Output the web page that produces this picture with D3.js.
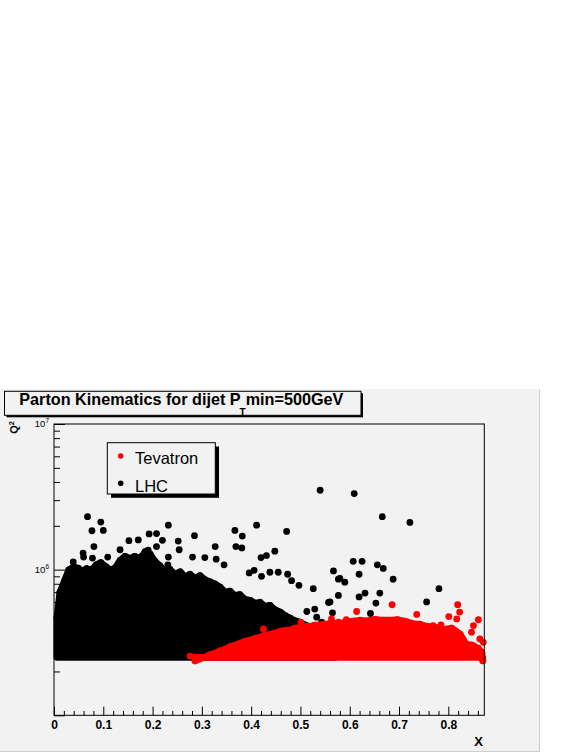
<!DOCTYPE html>
<html><head><meta charset="utf-8">
<script src="https://cdn.jsdelivr.net/npm/d3@7"></script>
<style>html,body{margin:0;padding:0;background:#fff;} svg{display:block;}</style>
</head><body>
<svg id="c" width="581" height="752"></svg>
<script>
// ---------- data ----------
const titleMain = "Parton Kinematics for dijet P";
const titleSub = "T";
const titleTail = "min=500GeV";
const seriesNames = ["Tevatron", "LHC"];
const seriesColors = ["#ff0000", "#000000"];
const q2Floor = 2.5e5;

// visible upper edge of the dense (solid) LHC cloud: [x, Q2]
const lhcEnvelope = [[0.006,4.97e5],[0.012,7.39e5],[0.022,8.95e5],[0.030,1.05e6],[0.040,1.10e6],[0.049,1.08e6],
  [0.058,1.02e6],[0.066,1.07e6],[0.076,1.05e6],[0.086,1.14e6],[0.095,1.18e6],[0.106,1.10e6],[0.115,1.05e6],
  [0.124,1.08e6],[0.134,1.22e6],[0.144,1.30e6],[0.154,1.26e6],[0.164,1.30e6],[0.174,1.24e6],[0.185,1.40e6],
  [0.195,1.35e6],[0.205,1.20e6],[0.215,1.12e6],[0.225,1.02e6],[0.235,1.06e6],[0.245,0.98e6],[0.256,1.02e6],
  [0.266,9.4e5],[0.276,9.8e5],[0.286,9.2e5],[0.296,9.6e5],[0.306,9.0e5],[0.317,8.7e5],[0.327,8.4e5],
  [0.337,8.0e5],[0.347,7.4e5],[0.357,7.5e5],[0.367,7.0e5],[0.377,7.1e5],[0.387,6.6e5],[0.398,6.5e5],
  [0.408,6.2e5],[0.418,6.3e5],[0.428,5.9e5],[0.438,6.0e5],[0.448,5.6e5],[0.459,5.4e5],[0.469,5.1e5],
  [0.479,4.9e5],[0.489,4.7e5],[0.499,4.6e5],[0.509,4.4e5],[0.529,4.18e5],[0.550,4.04e5],[0.570,3.80e5]];
// isolated LHC events: [x, Q2]
const lhcPoints = [[0.540,3.51e6],[0.609,3.33e6],[0.666,2.31e6],[0.722,2.11e6],[0.607,1.14e6],[0.625,1.14e6],
  [0.567,9.8e5],[0.656,1.08e6],[0.668,1.02e6],[0.619,9.3e5],[0.580,8.7e5],[0.590,8.2e5],[0.688,8.6e5],
  [0.781,7.4e5],[0.577,6.65e5],[0.619,6.5e5],[0.631,6.9e5],[0.661,6.9e5],[0.653,5.9e5],[0.756,6.0e5],
  [0.565,5.05e5],[0.642,5.0e5],[0.560,6.0e5],
  [0.411,2.02e6],[0.472,1.83e6],[0.285,1.71e6],[0.367,1.86e6],[0.382,1.70e6],[0.327,1.44e6],[0.369,1.44e6],
  [0.381,1.41e6],[0.448,1.34e6],[0.420,1.21e6],[0.431,1.25e6],[0.281,1.22e6],[0.306,1.21e6],[0.329,1.18e6],
  [0.345,1.08e6],[0.577,8.6e5],[0.455,9.6e5],[0.474,9.3e5],[0.396,9.5e5],[0.406,9.9e5],[0.438,9.6e5],
  [0.421,9.0e5],[0.482,8.4e5],[0.526,7.4e5],[0.497,7.8e5],[0.557,5.95e5],[0.513,5.16e5],[0.529,5.36e5],
  [0.533,4.72e5],[0.543,4.36e5],
  [0.068,2.31e6],[0.095,2.12e6],[0.077,1.85e6],[0.100,1.86e6],[0.232,2.02e6],[0.081,1.44e6],[0.152,1.58e6],
  [0.171,1.60e6],[0.193,1.76e6],[0.208,1.77e6],[0.220,1.59e6],[0.059,1.30e6],[0.060,1.22e6],[0.078,1.20e6],
  [0.252,1.57e6],[0.254,1.37e6],[0.232,1.22e6],[0.231,1.08e6],[0.134,1.37e6],[0.109,1.22e6],[0.039,1.13e6],
  [0.174,1.22e6],[0.191,1.36e6],[0.208,1.44e6]];

// visible upper edge of the dense Tevatron cloud: [x, Q2]
const tevEnvelope = [[0.286,2.5e5],[0.296,2.58e5],[0.306,2.64e5],[0.317,2.75e5],[0.327,2.81e5],[0.337,2.92e5],
  [0.347,2.99e5],[0.357,3.12e5],[0.367,3.19e5],[0.377,3.28e5],[0.387,3.40e5],[0.398,3.46e5],[0.408,3.56e5],
  [0.418,3.62e5],[0.428,3.74e5],[0.438,3.78e5],[0.448,3.86e5],[0.459,3.98e5],[0.469,4.04e5],[0.479,4.06e5],
  [0.489,4.18e5],[0.499,4.24e5],[0.509,4.31e5],[0.519,4.30e5],[0.529,4.38e5],[0.540,4.40e5],[0.550,4.45e5],
  [0.560,4.50e5],[0.570,4.52e5],[0.580,4.48e5],[0.590,4.59e5],[0.605,4.66e5],[0.621,4.74e5],[0.636,4.70e5],
  [0.651,4.80e5],[0.667,4.74e5],[0.682,4.74e5],[0.697,4.78e5],[0.712,4.66e5],[0.727,4.50e5],[0.742,4.45e5],
  [0.757,4.30e5],[0.773,4.24e5],[0.783,4.15e5],[0.793,4.11e5],[0.807,4.18e5],[0.815,4.0e5],[0.824,3.8e5],
  [0.830,3.5e5],[0.836,3.24e5],[0.848,3.2e5],[0.860,3.05e5],[0.868,2.85e5],[0.870,2.5e5]];
// isolated Tevatron events: [x, Q2]
const tevPoints = [[0.686,5.74e5],[0.614,5.16e5],[0.501,4.35e5],[0.819,5.74e5],[0.823,5.11e5],[0.801,4.76e5],
  [0.817,4.59e5],[0.736,4.93e5],[0.769,4.13e5],[0.785,4.18e5],[0.563,4.59e5],[0.593,4.53e5],[0.577,4.36e5],
  [0.861,4.53e5],[0.851,4.13e5],[0.847,3.72e5],[0.864,3.34e5],[0.871,3.17e5],[0.425,3.92e5],[0.276,2.55e5]];

const xTickValues = [0, 0.1, 0.2, 0.3, 0.4, 0.5, 0.6, 0.7, 0.8];
const xTickLabels = ["0", "0.1", "0.2", "0.3", "0.4", "0.5", "0.6", "0.7", "0.8"];
const yTickValues = [1e6, 1e7];
const yTickExponents = ["6", "7"];
const xTitle = "X";
const yTitle = "Q";
const yTitleSup = "2";

// ---------- drawing ----------
const svg = d3.select("#c");
const FONT = "'Liberation Sans', Arial, Helvetica, sans-serif";
const BG = "#f2f2f2";

const x = d3.scaleLinear().domain([0, 0.873]).range([54, 484.3]);
const y = d3.scaleLog().domain([1e5, 1e7]).range([715.3, 424]);

// canvas
svg.append("rect").attr("x", 0).attr("y", 389).attr("width", 540).attr("height", 363).attr("fill", BG);
svg.append("line").attr("x1", 539.5).attr("x2", 539.5).attr("y1", 389).attr("y2", 752).attr("stroke", "#cfcfcf");
svg.append("line").attr("x1", 0).attr("x2", 540).attr("y1", 751.5).attr("y2", 751.5).attr("stroke", "#cfcfcf");

// title box
svg.append("rect").attr("x", 6.5).attr("y", 393.3).attr("width", 356.5).attr("height", 24).attr("fill", "#000");
svg.append("rect").attr("x", 4.5).attr("y", 391.3).attr("width", 356.5).attr("height", 24)
  .attr("fill", BG).attr("stroke", "#000").attr("stroke-width", 1);
const t = svg.append("text").attr("x", 19.3).attr("y", 404.5)
  .attr("font-family", FONT).attr("font-weight", "bold").attr("font-size", 16.2).attr("fill", "#000");
t.append("tspan").text(titleMain);
t.append("tspan").style("font-size", "10px").attr("dy", 11.5).attr("dx", -1).text(titleSub);
t.append("tspan").style("font-size", "16.2px").attr("dy", -11.5).text(titleTail);

// data layers (envelope = visible top edge; marker centres sit one radius below it)
const R = 3.4;
const area = d3.area().x(d => x(d[0])).y0(y(q2Floor)).y1(d => y(d[1]) + R);
function drawSeries(env, pts, color) {
  const g = svg.append("g");
  g.append("path").datum(env).attr("d", area).attr("fill", color)
    .attr("stroke", color).attr("stroke-width", 2 * R).attr("stroke-linejoin", "round");
  g.selectAll("circle.e").data(env).join("circle").attr("class", "e")
    .attr("cx", d => x(d[0])).attr("cy", d => y(d[1]) + R).attr("r", R).attr("fill", color);
  g.selectAll("circle.p").data(pts).join("circle").attr("class", "p")
    .attr("cx", d => x(d[0])).attr("cy", d => y(d[1])).attr("r", R).attr("fill", color);
}
drawSeries(lhcEnvelope, lhcPoints, seriesColors[1]);
drawSeries(tevEnvelope, tevPoints, seriesColors[0]);

// frame
svg.append("rect").attr("x", 54).attr("y", 424).attr("width", 430.3).attr("height", 291.3)
  .attr("fill", "none").attr("stroke", "#000").attr("stroke-width", 1);

// x axis
const xMinor = d3.range(0, 0.8731, 0.02).filter(v => Math.abs(v * 10 - Math.round(v * 10)) > 1e-6);
const gx = svg.append("g").attr("transform", `translate(0,${y(1e5)})`);
gx.call(d3.axisBottom(x).tickValues(xTickValues).tickSizeInner(-8.7).tickSizeOuter(0).tickPadding(5)
  .tickFormat((d, i) => xTickLabels[i]));
gx.append("g").call(d3.axisBottom(x).tickValues(xMinor).tickSizeInner(-4.3).tickSizeOuter(0).tickFormat(""));
gx.selectAll(".domain").remove();
gx.selectAll("text").attr("font-family", FONT).attr("font-weight", "bold").attr("font-size", 12).attr("fill", "#000");
gx.selectAll("line").attr("stroke", "#000");

// y axis
const yMajor = [1e5, 1e6, 1e7];
const yMinor = [];
[1e5, 1e6].forEach(dec => { for (let k = 2; k <= 9; k++) yMinor.push(k * dec); });
const gy = svg.append("g").attr("transform", `translate(${x(0)},0)`);
gy.call(d3.axisLeft(y).tickValues(yMajor).tickSizeInner(-11).tickSizeOuter(0).tickFormat(""));
gy.append("g").call(d3.axisLeft(y).tickValues(yMinor).tickSizeInner(-6).tickSizeOuter(0).tickFormat(""));
gy.selectAll(".domain").remove();
gy.selectAll("line").attr("stroke", "#000");
yTickValues.forEach((v, i) => {
  const tt = svg.append("text").attr("x", 49).attr("y", y(v) + 3.3).attr("text-anchor", "end")
    .attr("font-family", FONT).attr("font-size", 9.5).attr("fill", "#000");
  tt.append("tspan").text("10");
  tt.append("tspan").attr("font-size", 6.5).attr("dy", -4).text(yTickExponents[i]);
});

// axis titles
svg.append("text").attr("x", 483).attr("y", 746).attr("text-anchor", "end")
  .attr("font-family", FONT).attr("font-weight", "bold").attr("font-size", 13).attr("fill", "#000").text(xTitle);
const yt = svg.append("text").attr("transform", "translate(17.5,421) rotate(-90)").attr("text-anchor", "end")
  .attr("font-family", FONT).attr("font-weight", "bold").attr("font-size", 11).attr("fill", "#000");
yt.append("tspan").text(yTitle);
yt.append("tspan").attr("font-size", 7.5).attr("dy", -4).text(yTitleSup);

// legend
const lg = svg.append("g");
lg.append("rect").attr("x", 111).attr("y", 446.5).attr("width", 108).attr("height", 51.3).attr("fill", "#000");
lg.append("rect").attr("x", 107.3).attr("y", 442.7).attr("width", 108).attr("height", 51.3)
  .attr("fill", BG).attr("stroke", "#000").attr("stroke-width", 1);
const legendY = [456, 483.3];
[0, 1].forEach(i => {
  lg.append("circle").attr("cx", 120.7).attr("cy", legendY[i]).attr("r", 2.8).attr("fill", seriesColors[i]);
  lg.append("text").attr("x", 135).attr("y", legendY[i] + 8.3)
    .attr("font-family", FONT).attr("font-size", 16.5).attr("fill", "#000").text(seriesNames[i]);
});
</script>
</body></html>
